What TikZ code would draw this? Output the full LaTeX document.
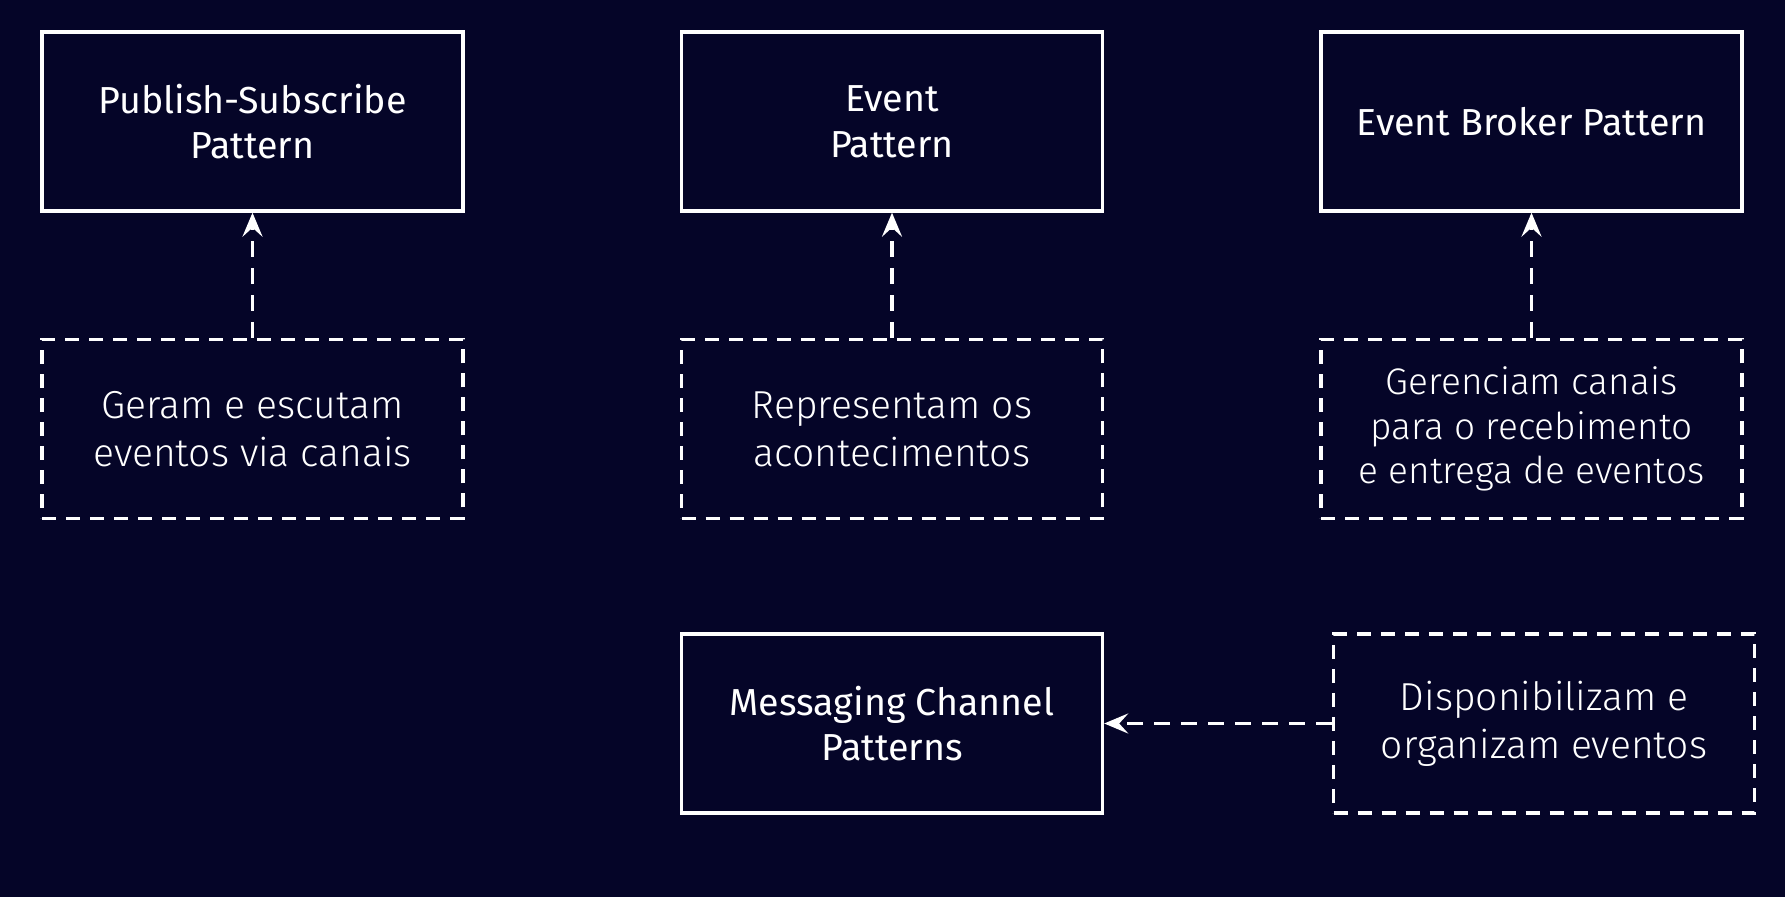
\documentclass[tikz,border=0pt]{standalone}
\usepackage{fontspec}
\setmainfont{Fira Sans}
\newfontfamily\lightf{Fira Sans Light}
\usetikzlibrary{arrows.meta}
\definecolor{bg}{RGB}{5,5,40}
\tikzset{
  solidbox/.style={draw=white, line width=1.7pt, minimum width=210.5pt, minimum height=89.5pt,
    text=white, align=center, font=\fontsize{18.8}{22.8}\selectfont, inner sep=0pt},
  dashbox/.style={draw=white, line width=1.7pt, dash pattern=on 7pt off 5pt, minimum width=210.5pt, minimum height=89.5pt,
    text=white, align=center, font=\lightf\fontsize{19.5}{24}\selectfont, inner sep=0pt},
  conn/.style={draw=white, line width=1.7pt, dash pattern=on 8pt off 5.5pt, -{Stealth[length=12pt,width=10pt,inset=4.5pt]}}
}
\begin{document}
\begin{tikzpicture}[x=0.5pt,y=-0.5pt]
\fill[bg] (0,0) rectangle (1785,897);
\useasboundingbox (0,0) rectangle (1785,897);
\node[solidbox] (ps) at (252.5,121.5) {Publish-Subscribe\\Pattern};
\node[solidbox] (ev) at (892,121.5) {Event\\Pattern};
\node[solidbox] (eb) at (1531.5,121.5) {Event Broker Pattern};
\node[dashbox] (d1) at (252.5,429) {Geram e escutam\\eventos via canais};
\node[dashbox] (d2) at (892,429) {Representam os\\acontecimentos};
\node[dashbox, font=\lightf\fontsize{18.5}{22.3}\selectfont] (d3) at (1531.5,429) {Gerenciam canais\\para o recebimento\\e entrega de eventos};
\node[solidbox] (mc) at (892,723.5) {Messaging Channel\\Patterns};
\node[dashbox] (d4) at (1544,723.5) {Disponibilizam e\\organizam eventos};
\draw[conn] (d1.north) -- (ps.south);
\draw[conn] (d2.north) -- (ev.south);
\draw[conn] (d3.north) -- (eb.south);
\draw[conn] (d4.west) -- (mc.east);
\end{tikzpicture}
\end{document}
